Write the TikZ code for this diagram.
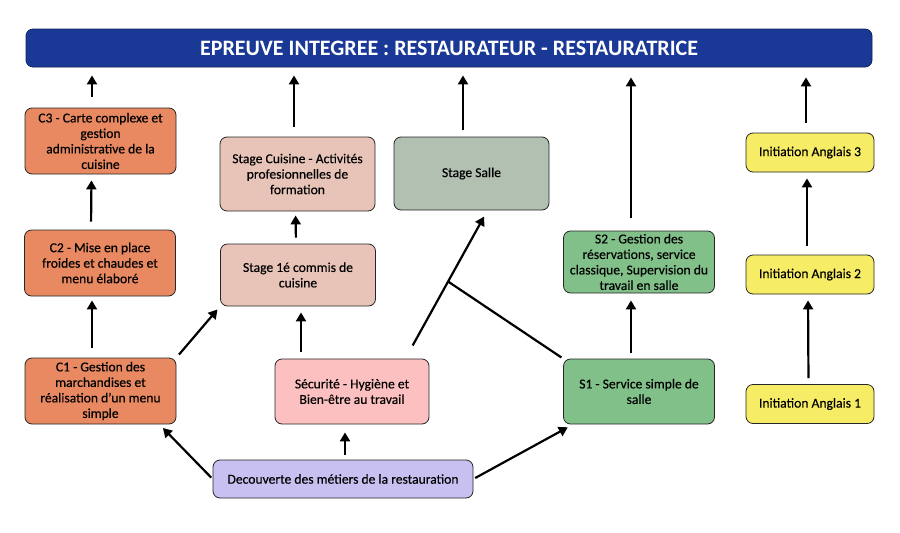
\documentclass[tikz,border=0pt]{standalone}
\usepackage{fontspec}
\setmainfont{Carlito}
\newfontfamily\boxfont{Carlito}[FakeBold=0.35]
\usetikzlibrary{arrows.meta}
\definecolor{bannerblue}{RGB}{26,56,150}
\definecolor{kitchenorange}{RGB}{232,137,98}
\definecolor{kitchenbeige}{RGB}{232,196,184}
\definecolor{hallgrey}{RGB}{178,192,178}
\definecolor{safetypink}{RGB}{252,192,192}
\definecolor{hallgreen}{RGB}{130,192,138}
\definecolor{englishyellow}{RGB}{246,236,102}
\definecolor{discoverylilac}{RGB}{200,192,240}
\begin{document}
\begin{tikzpicture}[x=1pt,y=-1pt]
\tikzset{
box node/.style={draw=black!85,line width=0.8pt,rounded corners=7pt,inner sep=0pt,align=center,font=\boxfont\fontsize{13.6}{15.5}\selectfont},
title node/.style={box node,draw=bannerblue!60!black,fill=bannerblue,text=white,font=\fontsize{22}{24}\selectfont\bfseries,minimum width=846pt,minimum height=38pt},
kitchen node/.style={box node,fill=kitchenorange,minimum width=151pt,minimum height=66pt},
stage node/.style={box node,fill=kitchenbeige,minimum width=155pt},
hall node/.style={box node,fill=hallgreen,minimum width=151pt},
english node/.style={box node,fill=englishyellow,minimum width=128pt,minimum height=39pt},
arrow/.style={line width=2.2pt,-{Triangle[width=10pt,length=9pt]},shorten <=8pt,shorten >=6pt},
link/.style={line width=2.2pt,shorten >=2pt}
}
\useasboundingbox[fill=white] (0,0) rectangle (900,533);

\node(banner)[title node] at (449,48) {EPREUVE INTEGREE : RESTAURATEUR - RESTAURATRICE};

\node(c3)[kitchen node] at (100.5,141) {C3 - Carte complexe et\\gestion\\administrative de la\\cuisine};
\node(c2)[kitchen node] at (100,263) {C2 - Mise en place\\froides et chaudes et\\menu élaboré};
\node(c1)[kitchen node] at (100.5,391) {C1 - Gestion des\\marchandises et\\réalisation d’un menu\\simple};

\node(cuisine)[stage node,minimum height=74pt] at (297.5,174) {Stage Cuisine - Activités\\profesionnelles de\\formation};
\node(stage1)[stage node,minimum height=62pt] at (298,275) {Stage 1é commis de\\cuisine};
\node(salle)[box node,fill=hallgrey,minimum width=155pt,minimum height=73pt] at (471.5,173.5) {Stage Salle};
\node(secu)[box node,fill=safetypink,minimum width=154pt,minimum height=65pt] at (352,391.5) {Sécurité - Hygiène et\\Bien-être au travail};
\node(dec)[box node,fill=discoverylilac,minimum width=260pt,minimum height=38pt] at (343,479) {Decouverte des métiers de la restauration};

\node(s2)[hall node,minimum height=62pt] at (639,262) {S2 - Gestion des\\réservations, service\\classique, Supervision du\\travail en salle};
\node(s1)[hall node,minimum height=65pt] at (639,391.5) {S1 - Service simple de\\salle};

\node(ang3)[english node] at (810,152.5) {Initiation Anglais 3};
\node(ang2)[english node] at (810,274.5) {Initiation Anglais 2};
\node(ang1)[english node] at (810,404) {Initiation Anglais 1};

\draw[arrow,shorten <=11pt,shorten >=8pt] ([xshift=-8.5pt]c3.north) -- ([xshift=-8.5pt]c3.north |- banner.south);
\draw[arrow,shorten <=10pt,shorten >=8pt] ([xshift=-3.5pt]cuisine.north) -- ([xshift=-3.5pt]cuisine.north |- banner.south);
\draw[arrow,shorten <=7pt,shorten >=8pt] ([xshift=-8.5pt]salle.north) -- ([xshift=-8.5pt]salle.north |- banner.south);
\draw[arrow,shorten <=13pt,shorten >=10pt] ([xshift=-8pt]s2.north) -- ([xshift=-8pt]s2.north |- banner.south);
\draw[arrow,shorten <=10pt,shorten >=10pt] ([xshift=-4pt]ang3.north) -- ([xshift=-4pt]ang3.north |- banner.south);

\draw[arrow] ([xshift=-9pt]c2.north) -- ([xshift=-9pt]c3.south);
\draw[arrow,shorten <=10pt,shorten >=4pt] ([xshift=-8.5pt]c1.north) -- ([xshift=-8pt]c2.south);
\draw[arrow,shorten <=6pt,shorten >=4pt] ([xshift=-2pt]stage1.north) -- ([xshift=-2pt]cuisine.south);
\draw[arrow,shorten <=7pt] ([xshift=3pt]stage1.south |- secu.north) -- ([xshift=3pt]stage1.south);
\draw[arrow,shorten <=5pt,shorten >=8pt] ([xshift=2pt]dec.north) -- ([xshift=2pt]dec.north |- secu.south);
\draw[arrow,shorten <=6pt,shorten >=7pt] ([xshift=-8pt]s1.north) -- ([xshift=-8pt]s2.south);
\draw[arrow,shorten <=6pt] ([xshift=-1.5pt]ang1.north) -- ([xshift=-2pt]ang2.south);
\draw[arrow,shorten <=9pt] ([xshift=-3pt]ang2.north) -- ([xshift=-3pt]ang3.south);

\draw[arrow,shorten <=4pt,shorten >=4pt] (c1.north east) -- (stage1.south west);
\draw[arrow,shorten <=2pt,shorten >=5pt] (dec.west) -- ([xshift=-17pt]c1.south east);
\draw[arrow,shorten <=2pt,shorten >=6pt] (dec.east) -- ([xshift=10pt]s1.south west);
\draw[arrow,shorten <=15pt,shorten >=7pt] ([xshift=-24pt]secu.north east) -- coordinate[pos=0.52] (fork) ([xshift=16pt]salle.south);
\draw[link] (fork) -- (s1.north west);
\end{tikzpicture}
\end{document}
